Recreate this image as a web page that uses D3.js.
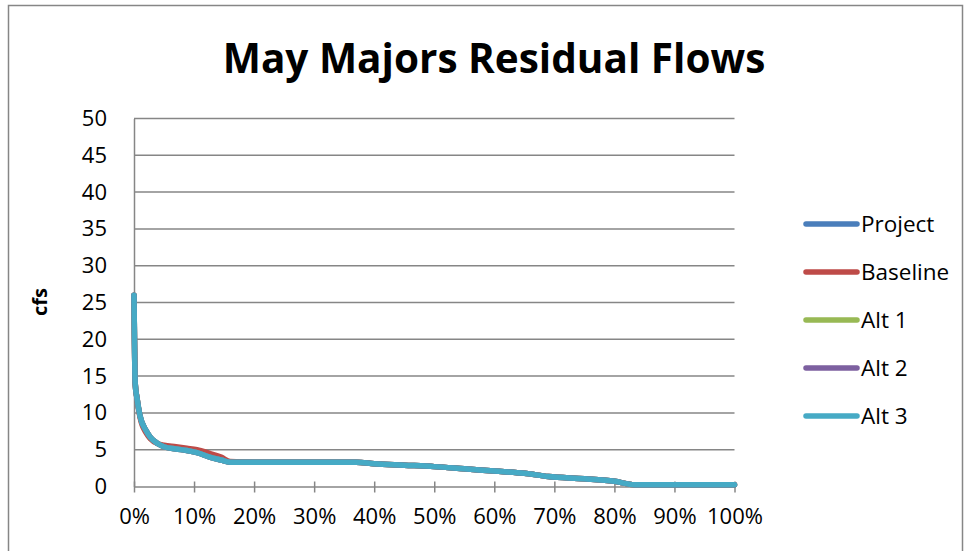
<!DOCTYPE html>
<html><head><meta charset="utf-8">
<script src="https://cdn.jsdelivr.net/npm/d3@7"></script>
<style>body{margin:0;background:#fff}svg{display:block}text{font-family:"Open Sans","Noto Sans",sans-serif;fill:#000}</style>
</head><body><svg id="c" width="969" height="551"></svg>
<script>
const title = "May Majors Residual Flows";
const yLabel = "cfs";
const seriesNames = ["Project", "Baseline", "Alt 1", "Alt 2", "Alt 3"];
const seriesColors = ["#4a7ebb", "#be4b48", "#98b954", "#7d60a0", "#46aac5"];
const xTicks = [0,10,20,30,40,50,60,70,80,90,100];
const yTicks = [0,5,10,15,20,25,30,35,40,45,50];
// exceedance % and flow (cfs)
const pct = [0, 0.2, 0.5, 1, 2, 2.7, 4, 5, 7, 8.8, 10.5, 12.6, 14.5, 16, 20, 30, 37, 40, 45, 50, 55, 60, 65, 69, 75, 80, 83.4, 90, 100];
const projectVals = [26, 14, 12, 9.6, 7.6, 6.7, 5.8, 5.4, 5.1, 4.9, 4.6, 4.0, 3.6, 3.3, 3.3, 3.3, 3.3, 3.1, 2.9, 2.7, 2.4, 2.1, 1.8, 1.35, 1.05, 0.7, 0.25, 0.25, 0.25];
const baselineVals = [26, 14, 12, 9.4, 7.3, 6.5, 5.8, 5.6, 5.4, 5.2, 5.0, 4.5, 4.0, 3.4, 3.3, 3.3, 3.3, 3.1, 2.9, 2.7, 2.4, 2.1, 1.8, 1.35, 1.05, 0.7, 0.25, 0.25, 0.25];
const alt1Vals = projectVals.slice();
const alt2Vals = projectVals.slice();
const alt3Vals = projectVals.slice();
const seriesVals = [projectVals, baselineVals, alt1Vals, alt2Vals, alt3Vals];

const svg = d3.select("#c");
svg.append("rect").attr("x",8.5).attr("y",5.5).attr("width",954).attr("height",560)
  .attr("fill","none").attr("stroke","#868686").attr("stroke-width",1.5);

const x = d3.scaleLinear().domain([0,100]).range([134,734.5]);
const y = d3.scaleLinear().domain([0,50]).range([486.5,118.5]);

svg.append("text").attr("x",494).attr("y",73).attr("text-anchor","middle")
  .attr("font-size",40.5).attr("font-weight","bold").text(title);

// gridlines
svg.append("g").selectAll("line").data(yTicks.filter(d=>d>0)).join("line")
  .attr("x1",x(0)).attr("x2",x(100)).attr("y1",d=>y(d)).attr("y2",d=>y(d))
  .attr("stroke","#868686").attr("stroke-width",1.5);

const yAxis = svg.append("g").attr("transform",`translate(${x(0)},0)`)
  .call(d3.axisLeft(y).tickValues(yTicks).tickSize(0).tickPadding(27).tickFormat(d3.format("d")));
yAxis.select(".domain").attr("stroke","#868686").attr("stroke-width",1.5);
yAxis.selectAll("text").attr("font-size",22).attr("font-family","Open Sans, sans-serif").attr("fill","#000");

const xAxis = svg.append("g").attr("transform",`translate(0,${y(0)})`)
  .call(d3.axisBottom(x).tickValues(xTicks).tickSize(6).tickSizeOuter(0).tickPadding(16).tickFormat(d=>d+"%"));
xAxis.select(".domain").attr("stroke","#868686").attr("stroke-width",1.5);
xAxis.selectAll("line").attr("stroke","#868686").attr("stroke-width",1.5).attr("y1",-5).attr("y2",6);
xAxis.selectAll("text").attr("font-size",22).attr("font-family","Open Sans, sans-serif").attr("fill","#000");

svg.append("text").attr("transform","translate(47,302) rotate(-90)").attr("text-anchor","middle")
  .attr("font-size",20).attr("font-weight","bold").text(yLabel);

const line = d3.line().x((d,i)=>x(pct[i])).y(d=>y(d)).curve(d3.curveMonotoneX);
seriesVals.forEach((vals,k)=>{
  svg.append("path").datum(vals).attr("d",line).attr("fill","none")
    .attr("stroke",seriesColors[k]).attr("stroke-width",5.5).attr("stroke-linejoin","round").attr("stroke-linecap","round");
});

const lg = svg.append("g");
seriesNames.forEach((n,k)=>{
  const yy = 224 + k*48;
  lg.append("line").attr("x1",806).attr("x2",857).attr("y1",yy).attr("y2",yy)
    .attr("stroke",seriesColors[k]).attr("stroke-width",5.5).attr("stroke-linecap","round");
  lg.append("text").attr("x",861).attr("y",yy+8).attr("font-size",22.5).text(n);
});
</script></body></html>
